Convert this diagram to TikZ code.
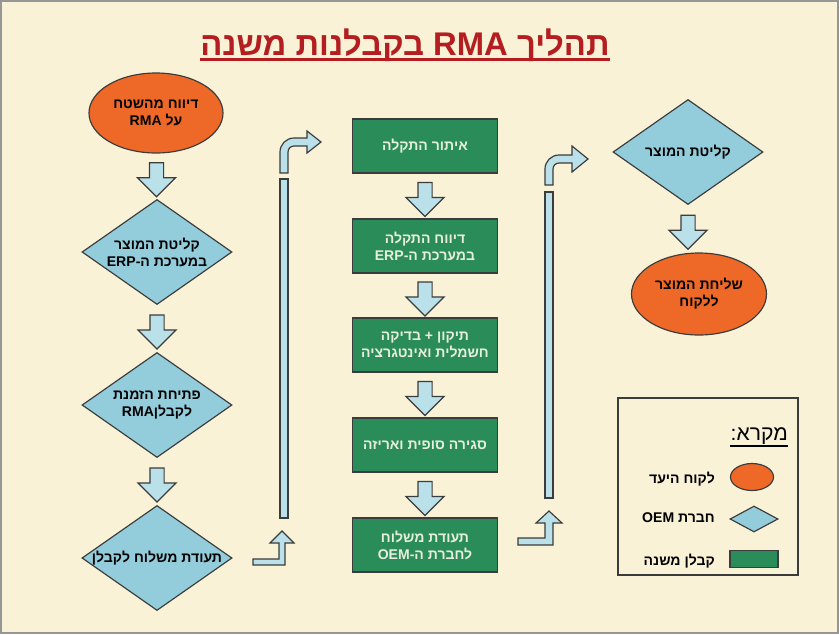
\documentclass[tikz,border=0pt]{standalone}
\usepackage{fontspec}
\usetikzlibrary{shapes.geometric,shapes.arrows,calc}
\TeXXeTstate=1
\newfontfamily\hebfont[Script=Hebrew]{Liberation Sans}
\newcommand{\heb}[1]{\beginR #1\endR}
\definecolor{parchment}{RGB}{249,242,214}
\definecolor{framegray}{RGB}{150,150,150}
\definecolor{outline}{RGB}{60,60,60}
\definecolor{custorange}{RGB}{238,104,40}
\definecolor{oemblue}{RGB}{147,205,220}
\definecolor{arrowblue}{RGB}{186,224,234}
\definecolor{subgreen}{RGB}{42,140,88}
\definecolor{subtext}{RGB}{232,238,222}
\definecolor{titlered}{RGB}{180,30,32}

\begin{document}
\begin{tikzpicture}[x=0.03cm, y=-0.03cm,
    every node/.style={font=\hebfont\bfseries\fontsize{12}{14.5}\selectfont, align=center, inner sep=0pt},
    cust/.style={ellipse, draw=outline, line width=1pt, fill=custorange, minimum width=4.02cm, minimum height=2.4cm},
    oem/.style={diamond, aspect=1.43, draw=outline, line width=1pt, fill=oemblue, minimum width=4.5cm, minimum height=3.15cm},
    sub/.style={rectangle, draw=outline, line width=1pt, fill=subgreen, text=subtext, minimum width=4.35cm, minimum height=1.62cm},
    downarrow/.style={single arrow, shape border rotate=270, draw=outline, line width=1pt, fill=arrowblue,
      inner xsep=0.195cm, inner ysep=0pt, minimum height=1.02cm, single arrow head extend=0.36cm},
    bent/.style={draw=outline, line width=1pt, fill=arrowblue, line join=miter}]

      \useasboundingbox (0,0) rectangle (839,634);
      \fill[parchment] (0,0) rectangle (839,634);
      \draw[framegray, line width=1.5pt] (1,1) rectangle (838,633);

      \node[font=\hebfont\bfseries\fontsize{28}{30}\selectfont, text=titlered, anchor=base] (title) at (405,55)
         {\heb{תהליך RMA בקבלנות משנה}};
      \draw[titlered, line width=2.5pt] ([yshift=-4pt]title.base west) -- ([yshift=-4pt]title.base east);

      \node[cust] (L1) at (156,113) {\heb{דיווח מהשטח}\\\heb{על RMA}};
      \node[oem] (L2) at (157,252) {\heb{קליטת המוצר}\\\heb{במערכת ה\hbox{-}\hbox{ERP}}};
      \node[oem] (L3) at (157,405) {\heb{פתיחת הזמנת}\\\heb{לקבלן\hbox{RMA}}};
      \node[oem] (L4) at (157,558) {\heb{תעודת משלוח לקבלן}};
      \node[downarrow] (a1) at ($(L1.south)!0.5!(L2.north)$) {};
      \node[downarrow] (a2) at ($(L2.south)!0.5!(L3.north)$) {};
      \node[downarrow] (a3) at ($(L3.south)!0.5!(L4.north)$) {};

      \node[sub] (M1) at (425,146) {\heb{איתור התקלה}};
      \node[sub] (M2) at (425,246) {\heb{דיווח התקלה}\\\heb{במערכת ה\hbox{-}\hbox{ERP}}};
      \node[sub] (M3) at (425,345) {\heb{תיקון + בדיקה}\\\heb{חשמלית ואינטגרציה}};
      \node[sub] (M4) at (425,445) {\heb{סגירה סופית ואריזה}};
      \node[sub] (M5) at (425,545) {\heb{תעודת משלוח}\\\heb{לחברת ה\hbox{-}\hbox{OEM}}};
      \node[downarrow] (b1) at ($(M1.south)!0.5!(M2.north)$) {};
      \node[downarrow] (b2) at ($(M2.south)!0.5!(M3.north)$) {};
      \node[downarrow] (b3) at ($(M3.south)!0.5!(M4.north)$) {};
      \node[downarrow] (b4) at ($(M4.south)!0.5!(M5.north)$) {};

      \node[oem] (R1) at (688,152) {\heb{קליטת המוצר}};
      \node[cust, minimum width=4.05cm, minimum height=2.46cm] (R2) at (699,294) {\heb{שליחת המוצר}\\\heb{ללקוח}};
      \node[downarrow] (c1) at ($(R1.south)!0.5!(R1.south |- R2.north)$) {};

      \draw[bent] (253,559) -- (279,559) -- (279,543) -- (270,543) -- (282,531) -- (294,543) -- (285,543)
         -- (285,565) -- (253,565) -- cycle;
      \draw[bent] (280,179) rectangle (288,518);
      \draw[bent] (280,173) -- (280,152) .. controls (280,144.3) and (286.3,138) .. (294,138) -- (307,138)
         -- (307,131) -- (321,142) -- (307,153) -- (307,146) -- (294,146)
         .. controls (290.7,146) and (288,148.7) .. (288,152) -- (288,173) -- cycle;

      \draw[bent] (518,538) -- (545,538) -- (545,523) -- (536,523) -- (549,511) -- (562,523) -- (553,523)
         -- (553,545) -- (518,545) -- cycle;
      \draw[bent] (545,192) rectangle (553,498);
      \draw[bent] (545,185) -- (545,169) .. controls (545,161.3) and (551.3,155) .. (559,155) -- (572,155)
         -- (572,146) -- (588,159) -- (572,172) -- (572,163) -- (559,163)
         .. controls (555.7,163) and (553,165.7) .. (553,169) -- (553,185) -- cycle;

      \draw[outline, line width=1.2pt] (618,398) rectangle (798,575);
      \node[font=\hebfont\fontsize{18}{20}\selectfont, anchor=base east] (key) at (788,440) {\heb{מקרא\hbox{:}}};
      \draw[line width=1.1pt] ([yshift=-5pt]key.base west) -- ([yshift=-5pt]key.base east);
      \node[cust, minimum width=1.29cm, minimum height=0.81cm] (K1) at (752,477) {};
      \node[oem, minimum width=1.44cm, minimum height=0.78cm] (K2) at (754,519) {};
      \node[sub, minimum width=1.44cm, minimum height=0.51cm] (K3) at (754,559) {};
      \node[anchor=east] (T1) at (715,479) {\heb{לקוח היעד}};
      \node[anchor=east] (T2) at (715,518) {\heb{חברת OEM}};
      \node[anchor=east] (T3) at (715,561) {\heb{קבלן משנה}};
    \end{tikzpicture}
\end{document}
